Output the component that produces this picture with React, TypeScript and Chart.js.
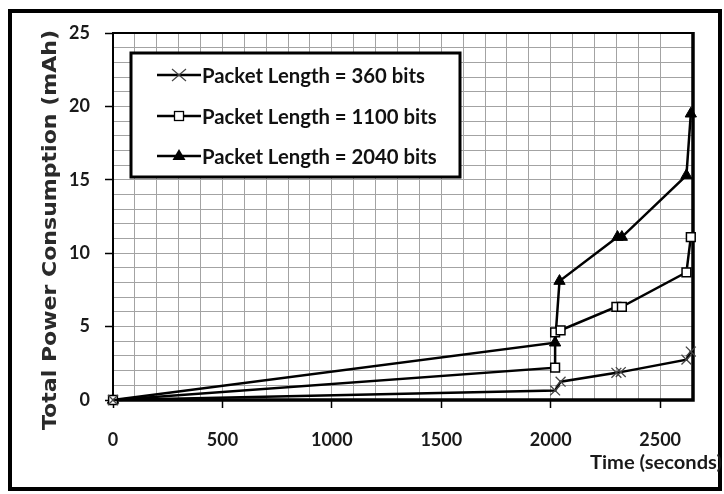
import React, { useEffect, useRef } from 'react';
import { Chart, registerables } from 'chart.js';

Chart.register(...registerables);

const seriesLabels = ['Packet Length = 360 bits', 'Packet Length = 1100 bits', 'Packet Length = 2040 bits'];

const times360 = [0, 2020, 2045, 2300, 2320, 2620, 2640];
const values360 = [0, 0.65, 1.25, 1.85, 1.9, 2.75, 3.3];

const times1100 = [0, 2020, 2020, 2045, 2300, 2325, 2620, 2640];
const values1100 = [0, 2.2, 4.6, 4.75, 6.35, 6.35, 8.7, 11.1];

const times2040 = [0, 2020, 2040, 2305, 2325, 2620, 2640];
const values2040 = [0, 3.9, 8.1, 11.1, 11.1, 15.3, 19.5];

const xTickLabels = [0, 500, 1000, 1500, 2000, 2500];
const yTickLabels = [0, 5, 10, 15, 20, 25];

const xTitle = 'Time (seconds)';
const yTitle = 'Total Power Consumption (mAh)';

const toPoints = (xs: number[], ys: number[]) => xs.map((x, i) => ({ x, y: ys[i] }));

const TICK_FONT = { family: 'Lato', size: 18, weight: 'bold' as const };

const framePlugin = {
  id: 'frame',
  beforeDraw(chart: any) {
    const ctx = chart.ctx;
    ctx.save();
    ctx.fillStyle = '#ffffff';
    ctx.fillRect(0, 0, chart.width, chart.height);
    ctx.strokeStyle = '#000';
    ctx.lineWidth = 4;
    ctx.strokeRect(10, 11, 710, 478);
    ctx.restore();
  },
  beforeDatasetsDraw(chart: any) {
    const { ctx, chartArea: a } = chart;
    ctx.save();
    ctx.strokeStyle = '#000';
    ctx.lineWidth = 2;
    ctx.beginPath();
    ctx.moveTo(a.left, a.bottom);
    ctx.lineTo(a.left, a.top);
    ctx.lineTo(a.right, a.top);
    ctx.stroke();
    ctx.lineWidth = 3.5;
    ctx.beginPath();
    ctx.moveTo(a.left - 1, a.bottom);
    ctx.lineTo(a.right, a.bottom);
    ctx.lineTo(a.right, a.top - 1);
    ctx.stroke();
    ctx.restore();
  },
  afterDraw(chart: any) {
    const ctx = chart.ctx;
    ctx.save();
    ctx.fillStyle = '#2a2a2a';
    // y title
    ctx.translate(51, 230);
    ctx.rotate(-Math.PI / 2);
    ctx.font = 'bold 19px "DejaVu Sans"';
    const wy = ctx.measureText(yTitle).width;
    ctx.scale(400 / wy, 1);
    ctx.textAlign = 'center';
    ctx.textBaseline = 'middle';
    ctx.fillText(yTitle, 0, 0);
    ctx.restore();

    ctx.save();
    ctx.fillStyle = '#1a1a1a';
    ctx.font = 'bold 18px Lato';
    const wx = ctx.measureText(xTitle).width;
    ctx.translate(722, 463);
    ctx.scale(132 / wx, 1);
    ctx.textAlign = 'right';
    ctx.textBaseline = 'middle';
    ctx.fillText(xTitle, 0, 0);
    ctx.restore();
  },
};

const legendPlugin = {
  id: 'insideLegend',
  afterDatasetsDraw(chart: any) {
    const ctx = chart.ctx;
    ctx.save();
    const box = { x: 131, y: 53, w: 329, h: 124 };
    ctx.fillStyle = '#fff';
    ctx.fillRect(box.x, box.y, box.w, box.h);
    ctx.strokeStyle = '#000';
    ctx.lineWidth = 3;
    ctx.strokeRect(box.x, box.y, box.w, box.h);

    ctx.font = 'bold 18px Lato';
    const w0 = ctx.measureText(seriesLabels[0]).width;
    const size = 18 * 223 / w0;
    const rows = [75, 116, 156];
    chart.data.datasets.forEach((ds: any, i: number) => {
      const y = rows[i];
      ctx.strokeStyle = '#000';
      ctx.lineWidth = 2.5;
      ctx.beginPath();
      ctx.moveTo(157, y);
      ctx.lineTo(201, y);
      ctx.stroke();
      const cx = 179;
      if (ds.pointStyle === 'crossRot') {
        ctx.strokeStyle = '#444';
        ctx.lineWidth = 1.2;
        ctx.beginPath();
        ctx.moveTo(cx - 7, y - 6);
        ctx.lineTo(cx + 7, y + 6);
        ctx.moveTo(cx + 7, y - 6);
        ctx.lineTo(cx - 7, y + 6);
        ctx.stroke();
      } else if (ds.pointStyle === 'rect') {
        ctx.fillStyle = '#fff';
        ctx.fillRect(cx - 4.5, y - 4.5, 9, 9);
        ctx.strokeStyle = '#000';
        ctx.lineWidth = 1.3;
        ctx.strokeRect(cx - 4.5, y - 4.5, 9, 9);
      } else {
        ctx.fillStyle = '#000';
        ctx.beginPath();
        ctx.moveTo(cx, y - 7);
        ctx.lineTo(cx + 6.5, y + 4);
        ctx.lineTo(cx - 6.5, y + 4);
        ctx.closePath();
        ctx.fill();
      }
      ctx.fillStyle = '#111';
      ctx.font = `bold ${size}px Lato`;
      ctx.textAlign = 'left';
      ctx.textBaseline = 'middle';
      ctx.fillText(ds.label, 202, y + 1);
    });
    ctx.restore();
  },
};

export default function App() {
  const ref = useRef<HTMLCanvasElement | null>(null);

  useEffect(() => {
    if (!ref.current) return;
    const lineCommon = {
      borderColor: '#000',
      borderWidth: 2.5,
      tension: 0,
      clip: false as const,
      fill: false,
    };
    const chart = new Chart(ref.current, {
      type: 'line',
      data: {
        datasets: [
          {
            ...lineCommon,
            label: seriesLabels[0],
            data: toPoints(times360, values360),
            pointStyle: 'crossRot',
            pointRadius: 7,
            pointBorderWidth: 1.3,
            pointBorderColor: '#444',
            pointBackgroundColor: 'rgba(0,0,0,0)',
          },
          {
            ...lineCommon,
            label: seriesLabels[1],
            data: toPoints(times1100, values1100),
            pointStyle: 'rect',
            pointRadius: 6.2,
            pointBorderWidth: 1.5,
            pointBorderColor: '#000',
            pointBackgroundColor: '#fff',
          },
          {
            ...lineCommon,
            label: seriesLabels[2],
            data: toPoints(times2040, values2040),
            pointStyle: 'triangle',
            pointRadius: 6.5,
            pointBorderWidth: 1,
            pointBorderColor: '#000',
            pointBackgroundColor: '#000',
          },
        ],
      },
      options: {
        responsive: false,
        animation: false,
        events: [],
        layout: { padding: { top: 33, right: 31, left: 0, bottom: 0 } },
        plugins: { legend: { display: false }, tooltip: { enabled: false } },
        scales: {
          x: {
            type: 'linear',
            min: 0,
            max: 2650,
            afterFit: (s: any) => { s.height = 94; },
            border: { display: false },
            grid: {
              color: '#a3a3a3',
              lineWidth: 1,
              tickLength: 8,
              tickWidth: 1.5,
              tickColor: (c: any) => (c.tick && xTickLabels.includes(c.tick.value) ? '#000' : 'rgba(0,0,0,0)'),
            },
            ticks: {
              stepSize: 100,
              autoSkip: false,
              maxRotation: 0,
              padding: 21,
              color: '#1a1a1a',
              font: TICK_FONT,
              callback: (v: any) => (xTickLabels.includes(Number(v)) ? String(v) : ''),
            },
          },
          y: {
            type: 'linear',
            min: 0,
            max: 25,
            afterFit: (s: any) => { s.width = 113; },
            border: { display: false },
            grid: {
              color: '#a3a3a3',
              lineWidth: 1,
              tickLength: 8,
              tickWidth: 1.5,
              tickColor: (c: any) => (c.tick && yTickLabels.includes(c.tick.value) ? '#000' : 'rgba(0,0,0,0)'),
            },
            ticks: {
              stepSize: 1,
              autoSkip: false,
              padding: 15,
              color: '#1a1a1a',
              font: TICK_FONT,
              callback: (v: any) => (yTickLabels.includes(Number(v)) ? String(v) : ''),
            },
          },
        },
      },
      plugins: [framePlugin, legendPlugin],
    });
    return () => chart.destroy();
  }, []);

  return (
    <div style={{ position: 'fixed', left: 0, top: 0 }}>
      <canvas ref={ref} width={724} height={494} style={{ display: 'block' }} />
    </div>
  );
}
